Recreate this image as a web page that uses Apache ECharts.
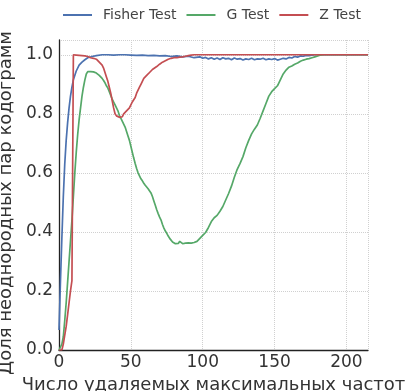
<!DOCTYPE html>
<html><head><meta charset="utf-8">
<script src="https://cdn.jsdelivr.net/npm/echarts@6/dist/echarts.min.js"></script>
<style>html,body{margin:0;padding:0;background:#fff}#c{width:407px;height:391px}</style>
</head><body><div id="c"></div>
<script>
const seriesNames = ['Fisher Test', 'G Test', 'Z Test'];
const xTicks = [0, 50, 100, 150, 200];
const yTicks = [0.0, 0.2, 0.4, 0.6, 0.8, 1.0];

const fisherX = [0,1,2,3,4,5,6,7,8,9,10,12,14,16,18,20,23,26,30,34,38,42,46,50,54,58,62,66,70,74,78,82,86,90,94,98,100,102,104,106,108,110,112,114,116,118,120,122,124,126,128,130,132,134,136,138,140,142,144,146,148,150,152,154,156,158,160,162,164,166,168,170,172,174,176,178,180,185,190,200,215];
const fisherY = [0.068,0.23,0.38,0.52,0.63,0.71,0.77,0.82,0.86,0.89,0.915,0.945,0.965,0.975,0.983,0.99,0.994,0.997,1.0,1.0,0.999,1.0,1.0,0.999,0.998,0.999,0.997,0.998,0.996,0.997,0.994,0.996,0.993,0.995,0.99,0.993,0.988,0.991,0.986,0.99,0.985,0.989,0.984,0.99,0.986,0.988,0.983,0.989,0.985,0.987,0.982,0.986,0.984,0.988,0.983,0.986,0.985,0.988,0.983,0.986,0.984,0.987,0.982,0.985,0.988,0.986,0.991,0.989,0.994,0.992,0.996,0.995,0.998,0.997,0.999,1.0,1.0,1.0,1.0,1.0,1.0];

const gX = [0,1,2,3,4,5,6,7,8,9,10,11,12,13,14,15,16,17,18,19,20,21,22,23,24,25,26,27,28,29,30,31,32,33,34,35,36,37,38,39,40,41,42,43,44,45,46,47,48,49,50,51,52,53,54,55,56,57,58,59,60,61,62,63,64,65,66,67,68,69,70,71,72,73,74,75,76,77,78,79,80,81,82,83,84,85,86,87,88,90,92,94,96,98,100,102,104,106,108,110,112,114,116,118,120,122,124,126,128,130,132,134,136,138,140,142,144,146,148,150,152,154,156,158,160,162,164,166,168,170,172,174,176,178,180,182,184,215];
const gY = [0,0,0.02,0.045,0.1,0.16,0.23,0.3,0.37,0.44,0.52,0.6,0.67,0.73,0.78,0.82,0.86,0.89,0.915,0.935,0.943,0.945,0.943,0.944,0.942,0.94,0.938,0.935,0.93,0.925,0.92,0.913,0.905,0.895,0.887,0.875,0.862,0.85,0.84,0.83,0.82,0.81,0.795,0.785,0.775,0.765,0.755,0.74,0.725,0.71,0.69,0.67,0.65,0.632,0.615,0.6,0.59,0.58,0.573,0.565,0.558,0.552,0.546,0.54,0.532,0.52,0.505,0.49,0.475,0.462,0.45,0.44,0.425,0.413,0.403,0.395,0.386,0.378,0.372,0.366,0.362,0.36,0.365,0.361,0.368,0.363,0.36,0.364,0.362,0.363,0.362,0.364,0.368,0.378,0.388,0.398,0.415,0.435,0.448,0.456,0.47,0.486,0.508,0.53,0.555,0.585,0.612,0.632,0.655,0.685,0.71,0.732,0.748,0.762,0.785,0.81,0.835,0.86,0.875,0.885,0.895,0.915,0.935,0.948,0.958,0.962,0.968,0.972,0.978,0.982,0.985,0.987,0.99,0.993,0.996,0.999,1.0,1.0];

const zX = [0,1,2,3,4,5,6,7,8,9,10,11,12,14,16,18,20,22,24,26,28,30,31,32,33,34,35,36,37,38,39,40,41,42,43,44,45,46,47,48,49,50,51,52,53,54,55,56,57,58,59,60,61,62,63,64,65,66,68,70,72,74,76,78,80,82,84,86,88,90,92,94,215];
const zY = [0,0,0,0.02,0.05,0.08,0.12,0.16,0.2,0.235,1.0,1.0,0.999,0.998,0.997,0.996,0.994,0.99,0.988,0.985,0.975,0.965,0.955,0.94,0.925,0.91,0.89,0.87,0.845,0.82,0.8,0.793,0.79,0.788,0.784,0.79,0.8,0.805,0.81,0.815,0.82,0.83,0.84,0.845,0.855,0.87,0.88,0.89,0.9,0.91,0.92,0.925,0.93,0.935,0.94,0.945,0.95,0.955,0.96,0.968,0.975,0.98,0.985,0.988,0.99,0.99,0.992,0.993,0.995,0.997,0.999,1.0,1.0];

const colors = ['#4c72b0', '#55a868', '#c44e52'];
const font = 'DejaVu Sans';
const pairs = (xs, ys) => xs.map((x, i) => [x, ys[i]]);
const datasets = [pairs(fisherX, fisherY), pairs(gX, gY), pairs(zX, zY)];

const chart = echarts.init(document.getElementById('c'), null, {renderer: 'canvas'});
chart.setOption({
  animation: false,
  color: colors,
  legend: {
    top: 3, left: 58,
    itemWidth: 29, itemHeight: 2, itemGap: 10,
    icon: 'rect',
    textStyle: {fontFamily: font, fontSize: 14, color: '#444', padding: [0, 0, 0, 6]},
    data: seriesNames
  },
  grid: {left: 59, right: 39, top: 40, bottom: 41, containLabel: false, outerBoundsMode: 'none'},
  xAxis: {
    type: 'value', min: 0, max: 215, interval: 50,
    name: 'Число удаляемых максимальных частот',
    nameLocation: 'middle', nameGap: 22,
    nameTextStyle: {fontFamily: font, fontSize: 18, color: '#333'},
    axisLine: {show: true, lineStyle: {color: '#222', width: 1.3}},
    axisTick: {show: false},
    axisLabel: {fontFamily: font, fontSize: 17, color: '#333', margin: 4,
      formatter: v => xTicks.includes(v) ? String(v) : ''},
    splitLine: {show: true, lineStyle: {color: '#d0d0d0', type: 'dotted', width: 1}}
  },
  yAxis: {
    type: 'value', min: 0, max: 1.05, interval: 0.2,
    name: 'Доля неоднородных пар кодограмм',
    nameLocation: 'middle', nameGap: 31, nameRotate: 90,
    nameTextStyle: {fontFamily: font, fontSize: 18, color: '#333', padding: [0, 16, 0, 0]},
    axisLine: {show: true, lineStyle: {color: '#222', width: 1.3}},
    axisTick: {show: false},
    axisLabel: {fontFamily: font, fontSize: 17, color: '#333', margin: 6,
      formatter: v => {
        const t = yTicks.find(k => Math.abs(k - v) < 1e-9);
        return t === undefined ? '' : t.toFixed(1);
      }},
    splitLine: {show: true, lineStyle: {color: '#d0d0d0', type: 'dotted', width: 1}}
  },
  series: seriesNames.map((n, i) => ({
    name: n, type: 'line', data: datasets[i], showSymbol: false, symbol: 'none',
    lineStyle: {width: 1.7, color: colors[i]}, itemStyle: {color: colors[i]}
  }))
});
</script></body></html>
